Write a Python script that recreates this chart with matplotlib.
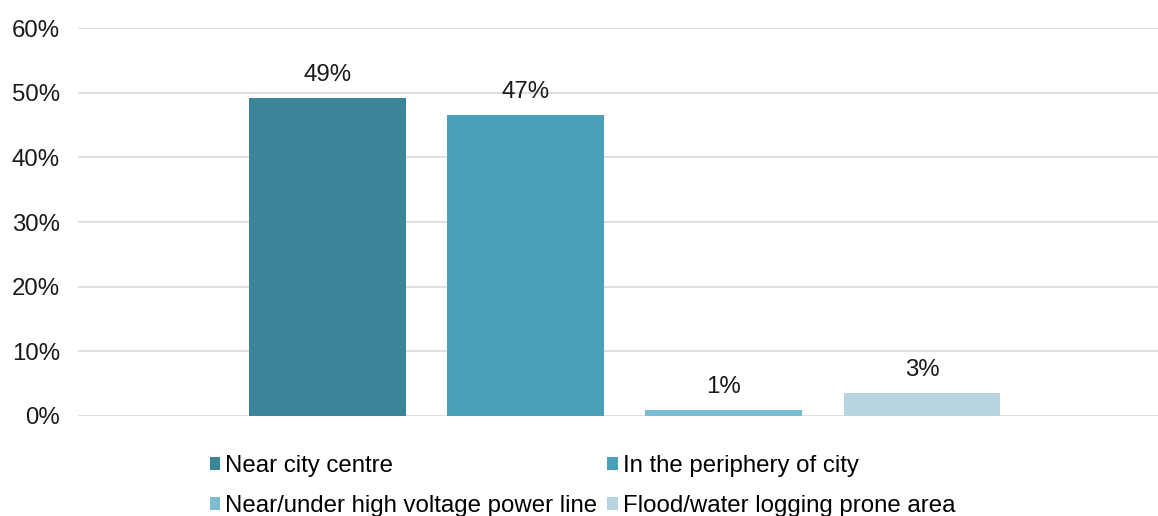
import numpy as np
import matplotlib.pyplot as plt
from matplotlib.patches import Patch

plt.rcParams['font.family'] = ['Liberation Sans', 'DejaVu Sans']

categories = ['Near city centre', 'In the periphery of city',
              'Near/under high voltage power line', 'Flood/water logging prone area']
values = [0.4915, 0.465, 0.009, 0.0355]
labels = ['49%', '47%', '1%', '3%']
colors = ['#3a8597', '#48a1b8', '#7abcd0', '#b6d5e0']

fig = plt.figure(figsize=(11.58, 5.16), dpi=100)
ax = fig.add_axes([0.0674, 0.1938, 0.9326, 0.7519])

x = np.arange(len(values))
bars = ax.bar(x, values, width=0.79, color=colors, zorder=3)
for b, lab in zip(bars, labels):
    ax.annotate(lab, (b.get_x() + b.get_width() / 2, b.get_height()),
                xytext=(0, 9), textcoords='offset points',
                ha='center', va='bottom', fontsize=17.3, color='#1a1a1a')

ax.set_ylim(0, 0.6)
ax.set_xlim(-1.257, 4.19)
ax.set_yticks(np.arange(0, 0.61, 0.1))
ax.set_yticklabels(['%d%%' % round(v * 100) for v in np.arange(0, 0.61, 0.1)])
ax.set_xticks([])
ax.tick_params(axis='y', length=0, pad=13, labelsize=17.3, labelcolor='#1a1a1a')
ax.grid(axis='y', color='#d9d9d9', linewidth=1.2, zorder=0)
for s in ax.spines.values():
    s.set_visible(False)

# legend fills row by row like the original
order = [0, 2, 1, 3]
handles = [Patch(facecolor=colors[i], edgecolor='none') for i in order]
fig.legend(handles, [categories[i] for i in order], loc='upper left',
           bbox_to_anchor=(0.181, 0.118), ncol=2, frameon=False, fontsize=17.3,
           handlelength=0.45, handleheight=0.45, handletextpad=0.2,
           columnspacing=0.4, labelspacing=0.75, borderpad=0, borderaxespad=0)

fig.savefig('out.png', dpi=100)
